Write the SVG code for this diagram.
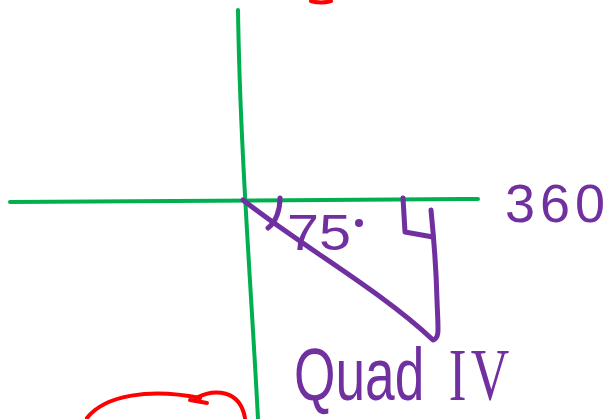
<svg xmlns="http://www.w3.org/2000/svg" width="612" height="419" viewBox="0 0 612 419">
<style>
.g{fill:none;stroke:#00b050;stroke-width:4;stroke-linecap:round;stroke-linejoin:round}
.p{fill:none;stroke:#7030a0;stroke-width:5;stroke-linecap:round;stroke-linejoin:round}
.r{fill:none;stroke:#ff0000;stroke-width:4;stroke-linecap:round;stroke-linejoin:round}
.t{fill:#7030a0;font-family:"Liberation Sans",Arial,sans-serif}
</style>
<rect width="612" height="419" fill="#ffffff"/>
<g id="axes">
<path class="g" d="M10,202 C120,201 300,200 478,199"/>
<path class="g" d="M238,10 C240,150 252,300 258,419"/>
</g>
<g id="red">
<path class="r" d="M311,1 Q321,4 331,1"/>
<path class="r" d="M87,418 C105,395 150,388 200,398"/>
<path class="r" d="M190,400 L207,403"/>
<path class="r" d="M196,398 C215,388 240,390 245,418"/>
</g>
<g id="triangle">
<path class="p" d="M243,200 C300,245 380,290 433,340 C440,338 438,330 437,300 C436,260 433,230 431,210"/>
<path class="p" d="M280,198 C280,210 276,222 268,228"/>
<path class="p" d="M403,198 L405,232 L433,237"/>
</g>
<g id="labels">
<text class="t" x="287" y="250" font-size="50" textLength="64" lengthAdjust="spacingAndGlyphs">75</text>
<circle cx="359" cy="223" r="4" fill="#7030a0"/>
<text class="t" x="505" y="222" font-size="54" textLength="100" lengthAdjust="spacing">360</text>
<text class="t" transform="translate(294,400) scale(0.72,1)" font-size="74">Quad<tspan dx="34" font-family="'Liberation Serif',serif" letter-spacing="6">IV</tspan></text>
</g>
</svg>
